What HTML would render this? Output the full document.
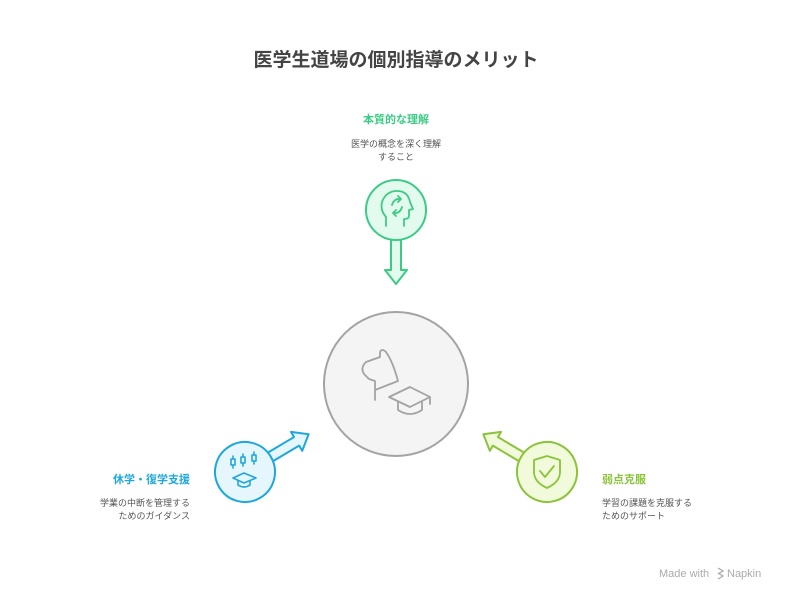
<!DOCTYPE html>
<html><head><meta charset="utf-8"><style>
body{margin:0;background:#fff;}
svg text{font-family:"Liberation Sans","Noto Sans CJK JP",sans-serif;}
</style></head><body>
<svg width="792" height="600" viewBox="0 0 792 600" xmlns="http://www.w3.org/2000/svg">
<rect width="792" height="600" fill="#fff"/>
<text x="396" y="66" text-anchor="middle" font-size="19" font-weight="bold" fill="#444">医学生道場の個別指導のメリット</text>

<!-- center -->
<circle cx="396" cy="384" r="72" fill="#f4f4f4" stroke="#a3a3a3" stroke-width="2"/>
<g fill="none" stroke="#a3a3a3" stroke-width="1.8" stroke-linejoin="round" stroke-linecap="round">
<path d="M375 400 V390 L398 381 Q393 362 386 352 Q382 348 380 352 L380 357 L366 362 Q360 368 364 374 L369 379 L375 381 V390"/>
<path d="M389 397 L410 387 L430 397 L410 407 Z"/>
<path d="M398 402 V410 Q410 418 422 410 V402"/>
<path d="M430 397 V404"/>
</g>

<!-- top -->
<g transform="translate(396,210) rotate(90)">
<polygon points="28,-5 60,-5 60,-11 74,0 60,11 60,5 28,5" fill="#e3fbee" stroke="#3ccb85" stroke-width="2" stroke-linejoin="round"/>
<circle r="30" fill="#e3fbee" stroke="#3ccb85" stroke-width="2"/>
</g>
<g fill="none" stroke="#3ccb85" stroke-width="1.8" stroke-linecap="round" stroke-linejoin="round">
<path d="M386 226 V217 Q380 210 382 202 Q386 191 397 191 Q408 191 410 202 L413 209 L409 210 V216 Q409 219 404 219 V226"/>
<path d="M392 205 Q394 198 401 199 M398 196 L401 199 L398 202"/>
<path d="M402 207 Q400 214 393 213 M396 216 L393 213 L396 210"/>
</g>
<text x="396" y="123" text-anchor="middle" font-size="11" font-weight="bold" fill="#3ccb85">本質的な理解</text>
<text x="396" y="147" text-anchor="middle" font-size="9" fill="#555">医学の概念を深く理解</text>
<text x="396" y="160" text-anchor="middle" font-size="9" fill="#555">すること</text>

<!-- left -->
<g transform="translate(245,472) rotate(-30.7)">
<polygon points="28,-5 60,-5 60,-11 74,0 60,11 60,5 28,5" fill="#e5f6fd" stroke="#1ea7dc" stroke-width="2" stroke-linejoin="round"/>
<circle r="30" fill="#e5f6fd" stroke="#1ea7dc" stroke-width="2"/>
</g>
<g fill="none" stroke="#1ea7dc" stroke-width="1.6" stroke-linecap="round" stroke-linejoin="round">
<rect x="231" y="459" width="4" height="6"/><path d="M233 456 V459 M233 465 V468"/>
<rect x="241" y="457" width="4" height="6"/><path d="M243 454 V457 M243 463 V466"/>
<rect x="252" y="455" width="4" height="6"/><path d="M254 452 V455 M254 461 V464"/>
<path d="M233 478 L244 473 L256 478 L244 483 Z"/>
<path d="M238 481 V485 Q244 489 250 485 V481"/>
</g>
<text x="190" y="483" text-anchor="end" font-size="11" font-weight="bold" fill="#1ea7dc">休学・復学支援</text>
<text x="190" y="506" text-anchor="end" font-size="9" fill="#555">学業の中断を管理する</text>
<text x="190" y="519" text-anchor="end" font-size="9" fill="#555">ためのガイダンス</text>

<!-- right -->
<g transform="translate(547,472) rotate(-149.3)">
<polygon points="28,-5 60,-5 60,-11 74,0 60,11 60,5 28,5" fill="#f1fbdc" stroke="#8bc33a" stroke-width="2" stroke-linejoin="round"/>
<circle r="30" fill="#f1fbdc" stroke="#8bc33a" stroke-width="2"/>
</g>
<g fill="none" stroke="#8bc33a" stroke-width="1.8" stroke-linecap="round" stroke-linejoin="round">
<path d="M547 456 L560 460 V472 Q560 482 547 488 Q534 482 534 472 V460 Z"/>
<path d="M540 471 L545 477 L554 466"/>
</g>
<text x="602" y="483" font-size="11" font-weight="bold" fill="#8bc33a">弱点克服</text>
<text x="602" y="506" font-size="9" fill="#555">学習の課題を克服する</text>
<text x="602" y="519" font-size="9" fill="#555">ためのサポート</text>

<text x="659" y="577" font-size="11" fill="#aaa">Made with</text>
<path d="M718 568 L723 571 L718 574 M718 573 L723 576 L718 579" fill="none" stroke="#aaa" stroke-width="1.3"/>
<text x="727" y="577" font-size="11" fill="#aaa">Napkin</text>
</svg>
</body></html>
